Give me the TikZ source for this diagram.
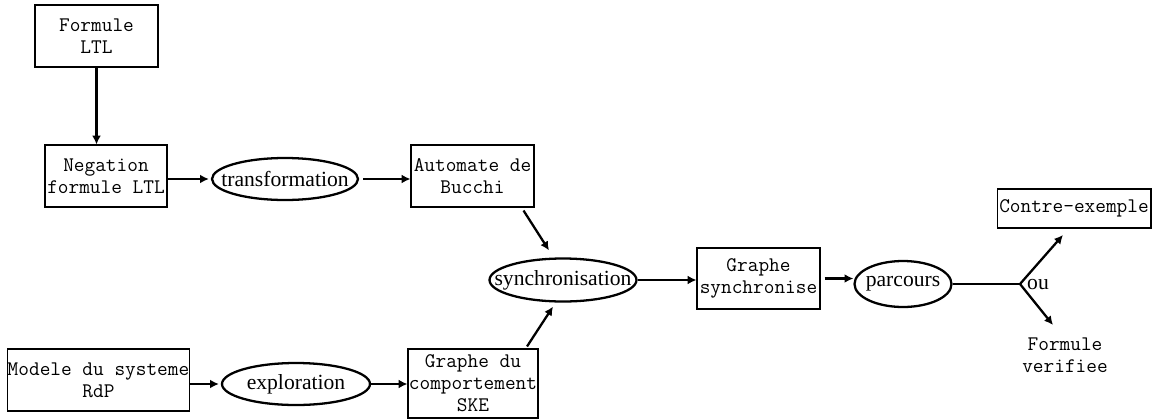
\documentclass[tikz,border=0pt]{standalone}
\usepackage{fontspec}
\setmainfont{Liberation Serif}
\usetikzlibrary{calc,arrows.meta,shapes.geometric}

\tikzset{
  etape/.style={draw,line width=0.6pt,align=center,inner sep=0pt,
    font=\ttfamily\fontsize{11.8}{12.5}\selectfont},
  action/.style={draw,ellipse,line width=1.3pt,inner xsep=-0.4cm,inner ysep=0pt,
    font=\fontsize{12.3}{14}\selectfont},
  fleche/.style={line width=1.3pt,-{Latex[length=5pt,width=5pt]}}
}

\begin{document}
\begin{tikzpicture}[x=0.02cm,y=-0.02cm]

\useasboundingbox (0,0) rectangle (1152,419);

% etapes
\node[etape,minimum width=2.46cm,minimum height=1.24cm] (ltl) at (96.5,36) {Formule\\LTL};
\node[etape,minimum width=2.44cm,minimum height=1.24cm] (neg) at (106,176) {Negation\\formule LTL};
\node[etape,minimum width=2.46cm,minimum height=1.24cm] (buchi) at (472.5,176) {Automate de\\Bucchi};
\node[etape,minimum width=2.46cm,minimum height=1.22cm] (gsync) at (758.5,278.5) {Graphe\\synchronise};
\node[etape,minimum width=2.6cm,minimum height=1.38cm] (ske) at (473,383.5) {Graphe du\\comportement\\SKE};
\node[etape,minimum width=3.62cm,minimum height=1.24cm] (rdp) at (98.5,380) {Modele du systeme\\RdP};
\node[etape,minimum width=3.08cm,minimum height=0.78cm] (contre) at (1074,208.5) {Contre-exemple};
\node[align=center,inner sep=0pt,font=\ttfamily\fontsize{11.8}{12.5}\selectfont] (verif) at (1065,355) {Formule\\verifiee};

% actions
\node[action,minimum width=2.92cm,minimum height=0.84cm] (trans) at (285,179) {transformation};
\node[action,minimum width=2.94cm,minimum height=0.86cm] (sync) at (563,280) {synchronisation};
\node[action,minimum width=2.96cm,minimum height=0.84cm] (explo) at (296,384) {exploration};
\node[action,minimum width=1.94cm,minimum height=0.92cm] (parc) at (903,284) {parcours};

\coordinate (fork) at (1020,284);
\coordinate (ctip) at (1063,235);
\coordinate (vtip) at (1053,325);
\node[font=\fontsize{12.3}{14}\selectfont,inner sep=0pt] (ou) at (1038,285) {ou};

% connexions
\draw[fleche] (ltl.south) -- (ltl.south |- neg.north);
\draw[fleche,shorten >=0.04cm] (trans.west -| neg.east) -- (trans.west);
\draw[fleche] ([xshift=0.08cm]trans.east) -- (trans.east -| buchi.west);
\draw[fleche] ($(buchi.south)+(51,3)$) -- ($(sync.north)+(-14,-7)$);
\draw[fleche] ($(ske.north)+(54,-2)$) -- ($(sync.south)+(-10,4)$);
\draw[fleche] (sync.east) -- (sync.east -| gsync.west);
\draw[fleche] ([xshift=0.08cm]gsync.east) -- (gsync.east -| parc.west);
\draw[fleche,shorten >=0.04cm] (explo.west -| rdp.east) -- (explo.west);
\draw[fleche] (explo.east) -- (explo.east -| ske.west);
\draw[line width=1.3pt] (parc.east) -- (fork);
\draw[fleche] (fork) -- (ctip);
\draw[fleche] (fork) -- (vtip);

\end{tikzpicture}
\end{document}
